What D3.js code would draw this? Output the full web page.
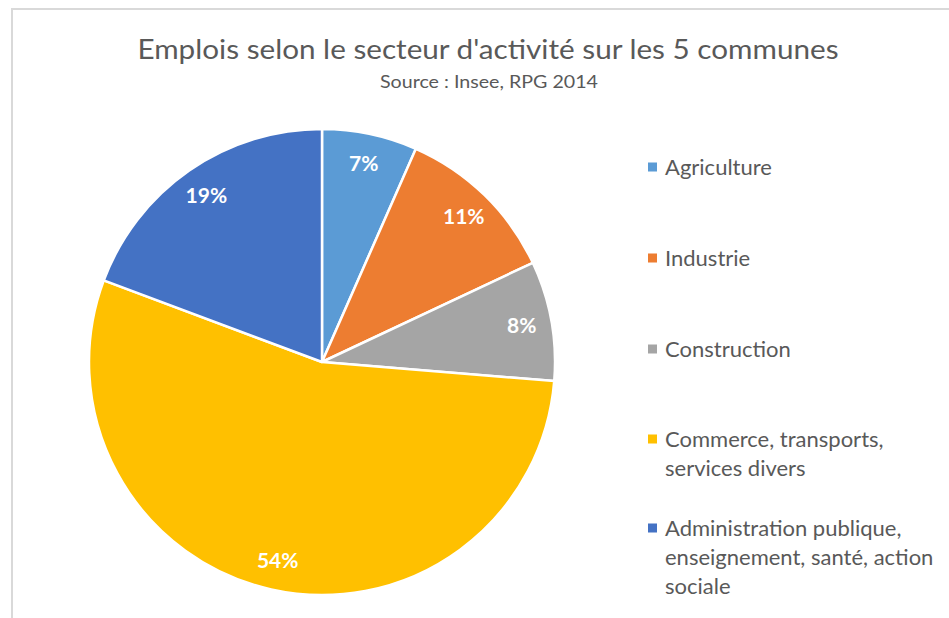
<!DOCTYPE html>
<html><head><meta charset="utf-8">
<script src="https://cdn.jsdelivr.net/npm/d3@7"></script>
<style>body{margin:0;background:#fff}svg{display:block}</style>
</head><body>
<svg id="c" width="949" height="618"></svg>
<script>
const categories = ["Agriculture","Industrie","Construction","Commerce, transports, services divers","Administration publique, enseignement, santé, action sociale"];
const legendLines = [["Agriculture"],["Industrie"],["Construction"],["Commerce, transports,","services divers"],["Administration publique,","enseignement, santé, action","sociale"]];
const values = [6.6, 11.4, 8.3, 54.4, 19.3];
const colors = ["#5b9bd5","#ed7d31","#a5a5a5","#ffc000","#4472c4"];
const title = "Emplois selon le secteur d'activité sur les 5 communes";
const subtitle = "Source : Insee, RPG 2014";

const svg = d3.select("#c");
const font = "Lato, 'Open Sans', sans-serif";
// frame
svg.append("line").attr("x1",12).attr("x2",949).attr("y1",9).attr("y2",9).attr("stroke","#d9d9d9").attr("stroke-width",2);
svg.append("line").attr("x1",12).attr("x2",12).attr("y1",8).attr("y2",618).attr("stroke","#d9d9d9").attr("stroke-width",2);

svg.append("text").attr("x",488).attr("y",59).attr("text-anchor","middle")
  .attr("font-family",font).attr("font-size",27).attr("fill","#595959")
  .attr("textLength",701).attr("lengthAdjust","spacingAndGlyphs").text(title);
svg.append("text").attr("x",489).attr("y",88).attr("text-anchor","middle")
  .attr("font-family",font).attr("font-size",16.5).attr("fill","#595959")
  .attr("textLength",218).attr("lengthAdjust","spacingAndGlyphs").text(subtitle);

const cx = 322, cy = 362, R = 233;
const total = d3.sum(values);
const pie = d3.pie().sort(null).value(d=>d)(values);
const arc = d3.arc().innerRadius(0).outerRadius(R);
const labelArc = d3.arc().innerRadius(203).outerRadius(203);
const g = svg.append("g").attr("transform",`translate(${cx},${cy})`);
g.selectAll("path").data(pie).join("path")
  .attr("d",arc).attr("fill",(d,i)=>colors[i]).attr("stroke","#fff").attr("stroke-width",2.5).attr("stroke-linejoin","round");
g.selectAll("text").data(pie).join("text")
  .attr("transform",d=>`translate(${labelArc.centroid(d)})`)
  .attr("text-anchor","middle").attr("dy","0.36em")
  .attr("font-family",font).attr("font-weight","bold").attr("font-size",21).attr("fill","#fff")
  .text(d=>Math.round(d.value/total*100)+"%");

// legend
const ly = [167, 258, 349, 439, 528];
const lg = svg.append("g");
legendLines.forEach((lines,i)=>{
  lg.append("rect").attr("x",648).attr("y",ly[i]-4.5).attr("width",9).attr("height",9).attr("fill",colors[i]);
  const t = lg.append("text").attr("font-family",font).attr("font-size",22).attr("fill","#595959");
  lines.forEach((s,j)=>{
    t.append("tspan").attr("x",665).attr("y",ly[i]+j*29.3).attr("dy","0.35em").text(s);
  });
});
</script>
</body></html>
